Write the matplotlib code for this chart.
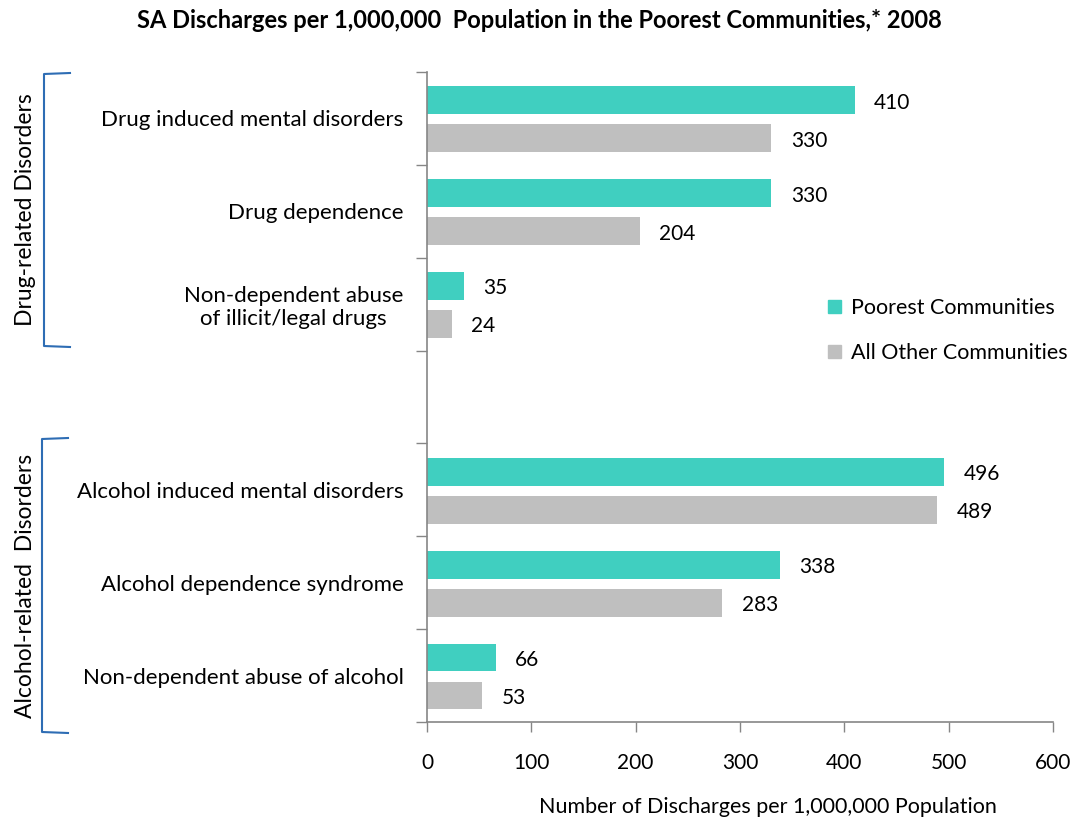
import matplotlib
matplotlib.use("Agg")
import matplotlib.pyplot as plt
from matplotlib.lines import Line2D
from matplotlib.patches import Patch

plt.rcParams['font.family'] = ['Lato', 'DejaVu Sans']

# data
categories = [
    "Drug induced mental disorders",
    "Drug dependence",
    "Non-dependent abuse\nof illicit/legal drugs",
    "",
    "Alcohol induced mental disorders",
    "Alcohol dependence syndrome",
    "Non-dependent abuse of alcohol",
]
poorest = [410, 330, 35, None, 496, 338, 66]
all_other = [330, 204, 24, None, 489, 283, 53]
series_names = ["Poorest Communities", "All Other Communities"]
group_names = ["Drug-related Disorders", "Alcohol-related  Disorders"]

teal = "#40CFC0"
grey = "#BFBFBF"
axis_col = "#868686"
bracket_col = "#2E6DB4"

W, H = 1078, 823
fig = plt.figure(figsize=(W / 100, H / 100), dpi=100)


def fx(px):
    return px / W


def fy(py):
    return 1 - py / H


ax = fig.add_axes([fx(427), fy(722), fx(1053) - fx(427), fy(72) - fy(722)])

pos = list(range(len(categories)))
for i in pos:
    if poorest[i] is None:
        continue
    ax.barh(i - 0.195, poorest[i], height=0.30, color=teal)
    ax.barh(i + 0.215, all_other[i], height=0.30, color=grey)
    ax.annotate(str(poorest[i]), (poorest[i], i - 0.17), xytext=(14, 0),
                textcoords="offset points", va="center", ha="left", fontsize=15)
    ax.annotate(str(all_other[i]), (all_other[i], i + 0.24), xytext=(14, 0),
                textcoords="offset points", va="center", ha="left", fontsize=15)

ax.set_xlim(0, 600)
ax.set_ylim(len(categories) - 0.5, -0.5)
ax.set_xticks(range(0, 601, 100))
ax.tick_params(axis="x", length=7, width=1, color=axis_col, pad=15, labelsize=15)

# boundary ticks on the y axis, labels at slot centres
ax.set_yticks([p - 0.5 for p in pos] + [len(categories) - 0.5])
ax.set_yticklabels([])
ax.tick_params(axis="y", which="major", length=8, width=1, color=axis_col)
ax.set_yticks(pos, minor=True)
ax.set_yticklabels(categories, minor=True, fontsize=16)
ax.tick_params(axis="y", which="minor", length=0, pad=17)
for lab in ax.get_yticklabels(minor=True):
    lab.set_multialignment("center")

for s in ["top", "right"]:
    ax.spines[s].set_visible(False)
for s in ["left", "bottom"]:
    ax.spines[s].set_color(axis_col)
    ax.spines[s].set_linewidth(1.2)

ax.set_xlabel("Number of Discharges per 1,000,000 Population", fontsize=15.5)
ax.xaxis.set_label_coords(0.545, -0.116)

handles = [Patch(color=teal), Patch(color=grey)]
ax.legend(handles, series_names, loc="upper left", bbox_to_anchor=(0.641, 0.652),
          frameon=False, fontsize=15.5, handlelength=0.6, handleheight=0.6,
          handletextpad=0.45, labelspacing=1.15, borderpad=0, borderaxespad=0)

fig.text(0.5, fy(21), "SA Discharges per 1,000,000  Population in the Poorest Communities,* 2008",
         ha="center", va="center", fontsize=17, fontweight="bold")

# group brackets and labels
for (top, bot, xv), name in zip([(73, 347, 44), (438, 733, 42)], group_names):
    xs = [fx(xv + 26), fx(xv), fx(xv), fx(xv + 26)]
    ys = [fy(top), fy(top + 1), fy(bot - 1), fy(bot)]
    fig.add_artist(Line2D(xs, ys, color=bracket_col, lw=1.5, transform=fig.transFigure))
    fig.text(fx(26), fy((top + bot) / 2), name, rotation=90, ha="center", va="center",
             fontsize=16.5)

fig.savefig("out.png", dpi=100)
